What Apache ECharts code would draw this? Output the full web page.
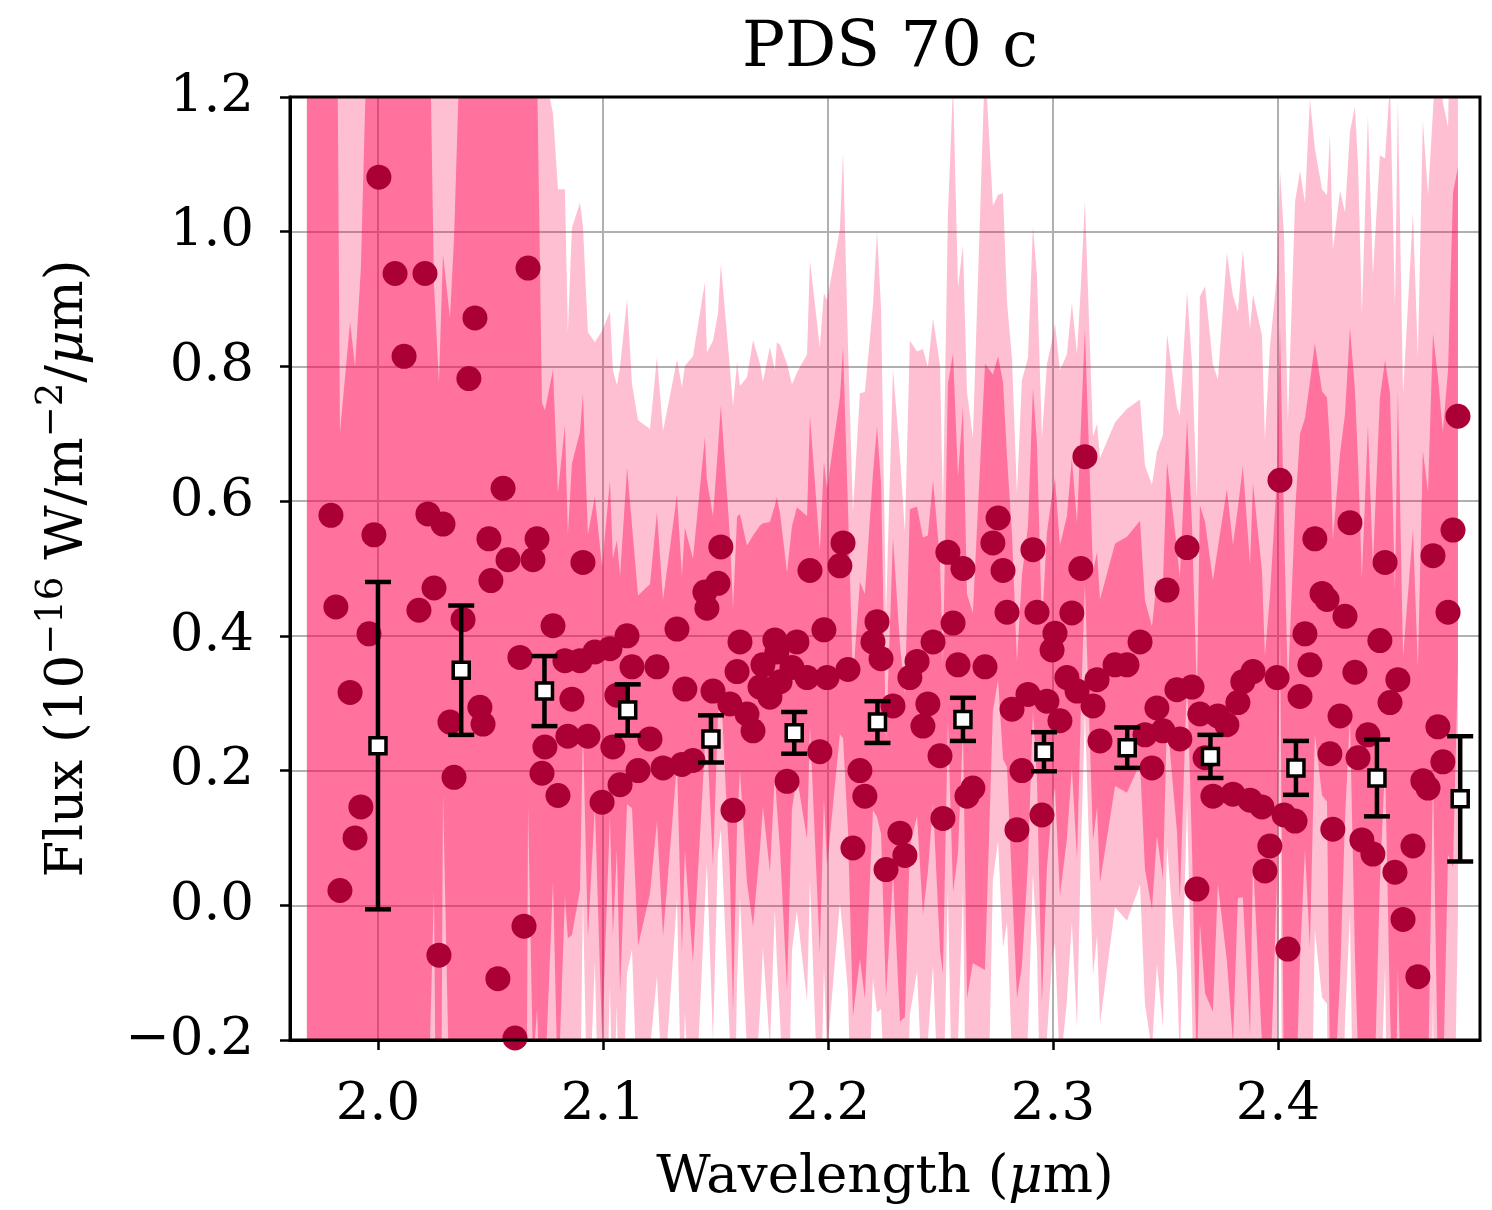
<!DOCTYPE html>
<html lang="en">
<head>
<meta charset="utf-8">
<title>PDS 70 c</title>
<script src="https://cdn.jsdelivr.net/npm/echarts@6/dist/echarts.min.js"></script>
<style>
  html, body { margin: 0; padding: 0; background: #fff; }
  #main { width: 1492px; height: 1210px; }
</style>
</head>
<body>
<div id="main"></div>
<script>
// spectrum channels: wavelength (um), flux (1e-16 W/m2/um), 1-sigma error
var wave = [
  1.9684, 1.9711, 1.9738, 1.9764, 1.9791, 1.9813, 1.9831, 1.9876, 1.9898, 1.9924,
  1.9960, 1.9982, 2.0004, 2.0076, 2.0116, 2.0182, 2.0209, 2.0222, 2.0249, 2.0271,
  2.0289, 2.0320, 2.0338, 2.0378, 2.0404, 2.0431, 2.0453, 2.0467, 2.0493, 2.0502,
  2.0533, 2.0556, 2.0578, 2.0609, 2.0631, 2.0649, 2.0667, 2.0689, 2.0707, 2.0729,
  2.0742, 2.0778, 2.0800, 2.0831, 2.0844, 2.0862, 2.0898, 2.0911, 2.0933, 2.0964,
  2.0996, 2.1031, 2.1044, 2.1062, 2.1076, 2.1107, 2.1129, 2.1156, 2.1209, 2.1240,
  2.1267, 2.1329, 2.1351, 2.1364, 2.1400, 2.1453, 2.1462, 2.1489, 2.1511, 2.1524,
  2.1564, 2.1578, 2.1596, 2.1609, 2.1640, 2.1667, 2.1698, 2.1711, 2.1742, 2.1764,
  2.1773, 2.1787, 2.1818, 2.1840, 2.1862, 2.1907, 2.1920, 2.1964, 2.1982, 2.1996,
  2.2053, 2.2067, 2.2089, 2.2111, 2.2142, 2.2164, 2.2200, 2.2218, 2.2236, 2.2258,
  2.2289, 2.2320, 2.2342, 2.2364, 2.2396, 2.2422, 2.2444, 2.2467, 2.2498, 2.2511,
  2.2533, 2.2556, 2.2578, 2.2600, 2.2618, 2.2644, 2.2698, 2.2733, 2.2756, 2.2778,
  2.2796, 2.2818, 2.2840, 2.2862, 2.2889, 2.2911, 2.2929, 2.2951, 2.2973, 2.2996,
  2.3009, 2.3031, 2.3062, 2.3084, 2.3107, 2.3124, 2.3142, 2.3178, 2.3196, 2.3209,
  2.3276, 2.3329, 2.3387, 2.3409, 2.3440, 2.3462, 2.3489, 2.3507, 2.3551, 2.3564,
  2.3596, 2.3618, 2.3640, 2.3653, 2.3676, 2.3711, 2.3733, 2.3773, 2.3800, 2.3822,
  2.3844, 2.3876, 2.3889, 2.3929, 2.3942, 2.3964, 2.3996, 2.4009, 2.4027, 2.4044,
  2.4076, 2.4098, 2.4120, 2.4142, 2.4164, 2.4196, 2.4218, 2.4231, 2.4244, 2.4276,
  2.4298, 2.4320, 2.4342, 2.4356, 2.4373, 2.4400, 2.4422, 2.4453, 2.4476, 2.4498,
  2.4520, 2.4533, 2.4556, 2.4600, 2.4622, 2.4644, 2.4667, 2.4689, 2.4711, 2.4733,
  2.4756, 2.4778, 2.4800
];
var flux = [
  1.45, -0.45, 1.60, -0.35, 0.579, 0.443, 0.022, 0.316, 0.100, 0.146,
  0.403, 0.550, 1.081, 0.938, 0.815, 0.438, 0.938, 0.581, 0.471, -0.074,
  0.566, 0.272, 0.190, 0.424, 0.782, 0.872, 0.294, 0.269, 0.544, 0.482,
  -0.109, 0.619, 0.513, -0.197, 0.368, -0.031, 0.946, 0.513, 0.544, 0.196,
  0.235, 0.415, 0.163, 0.363, 0.251, 0.306, 0.363, 0.509, 0.251, 0.376,
  0.153, 0.381, 0.235, 0.312, 0.179, 0.400, 0.354, 0.200, 0.247, 0.354,
  0.204, 0.410, 0.209, 0.321, 0.215, 0.465, 0.441, 0.318, 0.478, 0.532,
  0.299, 0.141, 0.347, 0.391, 0.284, 0.259, 0.324, 0.357, 0.309, 0.394,
  0.376, 0.332, 0.184, 0.353, 0.391, 0.338, 0.497, 0.228, 0.409, 0.338,
  0.504, 0.538, 0.350, 0.085, 0.200, 0.162, 0.391, 0.421, 0.366, 0.053,
  0.296, 0.107, 0.074, 0.338, 0.362, 0.266, 0.299, 0.391, 0.222, 0.129,
  0.524, 0.419, 0.357, 0.500, 0.162, 0.174, 0.354, 0.538, 0.575, 0.497,
  0.435, 0.291, 0.112, 0.200, 0.313, 0.528, 0.435, 0.134, 0.303, 0.379,
  0.404, 0.274, 0.338, 0.434, 0.318, 0.500, 0.666, 0.296, 0.335, 0.244,
  0.357, 0.357, 0.391, 0.253, 0.204, 0.293, 0.259, 0.468, 0.320, 0.247,
  0.531, 0.324, 0.024, 0.284, 0.219, 0.162, 0.281, 0.268, 0.165, 0.301,
  0.332, 0.156, 0.347, 0.146, 0.051, 0.088, 0.338, 0.631, 0.134, -0.065,
  0.125, 0.310, 0.403, 0.357, 0.544, 0.463, 0.454, 0.225, 0.113, 0.281,
  0.429, 0.568, 0.346, 0.219, 0.097, 0.253, 0.076, 0.393, 0.509, 0.301,
  0.049, 0.335, -0.021, 0.088, -0.106, 0.185, 0.174, 0.519, 0.265, 0.213,
  0.435, 0.557, 0.726
];
var fluxErr = [
  1.80, 1.80, 1.90, 1.70, 1.10, 1.20, 0.68, 0.55, 0.70, 0.80,
  1.00, 1.20, 1.35, 1.25, 1.10, 1.00, 1.20, 0.90, 0.45, 0.85,
  0.40, 0.60, 0.80, 1.00, 1.00, 1.10, 1.00, 1.20, 0.90, 1.00,
  1.40, 0.90, 0.80, 1.50, 0.90, 1.25, 0.80, 0.75, 0.70, 0.55,
  0.50, 0.38, 0.45, 0.35, 0.30, 0.35, 0.34, 0.25, 0.30, 0.23,
  0.35, 0.25, 0.28, 0.23, 0.31, 0.25, 0.21, 0.26, 0.23, 0.23,
  0.25, 0.20, 0.28, 0.24, 0.30, 0.23, 0.19, 0.26, 0.20, 0.21,
  0.25, 0.30, 0.23, 0.19, 0.25, 0.29, 0.24, 0.21, 0.26, 0.20,
  0.23, 0.25, 0.31, 0.21, 0.20, 0.24, 0.23, 0.30, 0.25, 0.28,
  0.25, 0.29, 0.24, 0.25, 0.28, 0.30, 0.25, 0.29, 0.26, 0.19,
  0.25, 0.28, 0.24, 0.25, 0.23, 0.28, 0.25, 0.24, 0.29, 0.23,
  0.25, 0.40, 0.28, 0.24, 0.30, 0.26, 0.45, 0.25, 0.24, 0.28,
  0.23, 0.26, 0.25, 0.29, 0.25, 0.24, 0.25, 0.28, 0.25, 0.23,
  0.23, 0.26, 0.24, 0.23, 0.25, 0.21, 0.19, 0.20, 0.19, 0.21,
  0.18, 0.19, 0.18, 0.20, 0.21, 0.19, 0.22, 0.19, 0.21, 0.24,
  0.19, 0.24, 0.29, 0.31, 0.35, 0.32, 0.25, 0.35, 0.37, 0.29,
  0.32, 0.35, 0.28, 0.35, 0.32, 0.37, 0.30, 0.23, 0.43, 0.39,
  0.46, 0.39, 0.32, 0.42, 0.29, 0.30, 0.30, 0.46, 0.43, 0.39,
  0.30, 0.29, 0.42, 0.44, 0.39, 0.46, 0.43, 0.36, 0.30, 0.46,
  0.42, 0.43, 0.39, 0.47, 0.46, 0.49, 0.44, 0.33, 0.52, 0.49,
  0.36, 0.50, 0.37
];

// binned spectrum
var binWave = [2.000, 2.037, 2.074, 2.111, 2.148, 2.185, 2.222, 2.260, 2.296, 2.333, 2.370, 2.408, 2.444, 2.481];
var binFlux = [0.237, 0.349, 0.318, 0.290, 0.247, 0.256, 0.272, 0.276, 0.228, 0.234, 0.221, 0.204, 0.189, 0.158];
var binErr  = [0.243, 0.096, 0.052, 0.038, 0.035, 0.031, 0.031, 0.032, 0.029, 0.030, 0.032, 0.040, 0.057, 0.093];

var xTicks = [2.0, 2.1, 2.2, 2.3, 2.4];

var serif = 'DejaVu Serif';
var chart = echarts.init(document.getElementById('main'));

function fmtTick(v) {
  return v.toFixed(1).replace('-', '\u2212');
}

// filled band flux +- k*sigma, drawn once as one polygon
function bandRender(k, color) {
  return function (params, api) {
    if (params.dataIndex !== 0) return null;
    var pts = [], i;
    for (i = 0; i < wave.length; i++) pts.push(api.coord([wave[i], flux[i] + k * fluxErr[i]]));
    for (i = wave.length - 1; i >= 0; i--) pts.push(api.coord([wave[i], flux[i] - k * fluxErr[i]]));
    return { type: 'polygon', shape: { points: pts }, style: { fill: color } };
  };
}

function errRender(params, api) {
  var x = api.value(0), y = api.value(1), e = api.value(2);
  var top = api.coord([x, y + e]);
  var bot = api.coord([x, y - e]);
  var hw = 13;
  var st = { stroke: '#000', lineWidth: 4.5 };
  return {
    type: 'group',
    children: [
      { type: 'line', shape: { x1: top[0], y1: top[1], x2: bot[0], y2: bot[1] }, style: st },
      { type: 'line', shape: { x1: top[0] - hw, y1: top[1], x2: top[0] + hw, y2: top[1] }, style: st },
      { type: 'line', shape: { x1: bot[0] - hw, y1: bot[1], x2: bot[0] + hw, y2: bot[1] }, style: st }
    ]
  };
}

var specData = wave.map(function (w, i) { return [w, flux[i]]; });
var binData = binWave.map(function (w, i) { return [w, binFlux[i], binErr[i]]; });

var option = {
  animation: false,
  backgroundColor: '#fff',
  title: {
    text: 'PDS 70 c',
    left: 885,
    top: 12,
    textAlign: 'center',
    textStyle: { fontFamily: serif, fontSize: 64, fontWeight: 'normal', color: '#000' }
  },
  grid: {
    left: 290, top: 97, width: 1190, height: 951,
    show: true, borderColor: '#000', borderWidth: 3, backgroundColor: 'transparent', z: 10
  },
  xAxis: {
    type: 'value',
    min: 1.9609,
    max: 2.4898,
    splitNumber: 5,
    name: '{n|Wavelength (}{i|\u03bc}{n|m)}',
    nameLocation: 'middle',
    nameGap: 112,
    nameTextStyle: {
      rich: {
        n: { fontFamily: serif, fontSize: 53, color: '#000' },
        i: { fontFamily: serif, fontSize: 53, fontStyle: 'italic', color: '#000' }
      }
    },
    axisLine: { show: true, onZero: false, lineStyle: { color: '#000', width: 3 } },
    axisTick: { show: true, length: 10, customValues: xTicks, lineStyle: { color: '#000', width: 2.5 } },
    axisLabel: { customValues: xTicks, formatter: fmtTick, fontFamily: serif, fontSize: 53, color: '#000', margin: 39 },
    splitLine: { show: true, lineStyle: { color: '#b0b0b0', width: 2 } }
  },
  yAxis: {
    type: 'value',
    min: -0.2,
    max: 1.2,
    interval: 0.2,
    name: '{n|Flux (10}{s|\u221216}{n| W/m}{s|\u22122}{n|/}{i|\u03bc}{n|m)}',
    nameLocation: 'middle',
    nameRotate: 90,
    nameGap: 188,
    nameTextStyle: {
      rich: {
        n: { fontFamily: serif, fontSize: 53, lineHeight: 68, color: '#000' },
        s: { fontFamily: serif, fontSize: 37, lineHeight: 37, verticalAlign: 'top', color: '#000' },
        i: { fontFamily: serif, fontSize: 53, lineHeight: 68, fontStyle: 'italic', color: '#000' }
      }
    },
    axisLine: { show: true, onZero: false, lineStyle: { color: '#000', width: 3 } },
    axisTick: { show: true, length: 10, lineStyle: { color: '#000', width: 2.5 } },
    axisLabel: { formatter: fmtTick, fontFamily: serif, fontSize: 53, color: '#000', margin: 36 },
    splitLine: { show: true, lineStyle: { color: '#b0b0b0', width: 2 } }
  },
  series: [
    {
      name: '2 sigma',
      type: 'custom',
      renderItem: bandRender(2, 'rgba(255, 0, 80, 0.25)'),
      data: specData,
      encode: { x: 0, y: 1 },
      clip: true,
      silent: true,
      z: 1
    },
    {
      name: '1 sigma',
      type: 'custom',
      renderItem: bandRender(1, 'rgba(255, 0, 80, 0.40)'),
      data: specData,
      encode: { x: 0, y: 1 },
      clip: true,
      silent: true,
      z: 1
    },
    {
      name: 'spectrum',
      type: 'scatter',
      data: specData,
      symbol: 'circle',
      symbolSize: 25,
      itemStyle: { color: '#aa0036', opacity: 1 },
      clip: true,
      z: 3
    },
    {
      name: 'binned err',
      type: 'custom',
      renderItem: errRender,
      data: binData,
      encode: { x: 0, y: 1 },
      z: 4
    },
    {
      name: 'binned',
      type: 'scatter',
      data: binData.map(function (d) { return [d[0], d[1]]; }),
      symbol: 'rect',
      symbolSize: 16,
      itemStyle: { color: '#fff', borderColor: '#000', borderWidth: 3.5, opacity: 1 },
      z: 5
    }
  ]
};

chart.setOption(option);
</script>
</body>
</html>
